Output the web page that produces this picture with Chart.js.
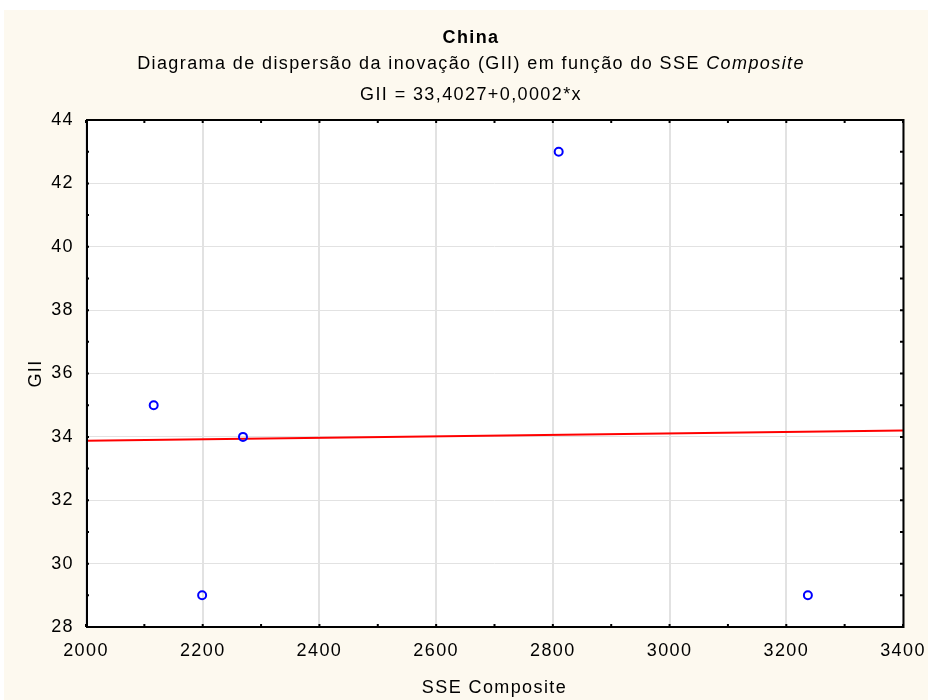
<!DOCTYPE html>
<html>
<head>
<meta charset="utf-8">
<script src="https://cdn.jsdelivr.net/npm/chart.js@4.4.0/dist/chart.umd.min.js"></script>
<style>
  html, body { margin: 0; padding: 0; background: #ffffff; }
  #wrap { position: absolute; left: 4px; top: 10px; width: 924px; height: 690px; background: #fdf9ef; }
  canvas { display: block; }
</style>
</head>
<body>
<div id="wrap"><canvas id="c" width="924" height="690"></canvas></div>
<script>
// Observations: SSE Composite (x) versus GII (y)
const sseComposite = [2116, 2199, 2269, 2810, 3237];
const gii = [35, 29, 34, 43, 29];

// Fitted regression line GII = a + b*x
const fitIntercept = 33.4027;
const fitSlope = 0.000236;
const fitRangeX = [2000, 3400];

// Axis ticks
const xTicks = [2000, 2200, 2400, 2600, 2800, 3000, 3200, 3400];
const yTicks = [28, 30, 32, 34, 36, 38, 40, 42, 44];
const xMinorStep = 100;
const yMinorStep = 1;

// Header texts
const titleText = 'China';
const subtitleText = 'Diagrama de dispersão da inovação (GII) em função do SSE ';
const subtitleItalic = 'Composite';
const equationText = 'GII = 33,4027+0,0002*x';
const xTitle = 'SSE Composite';
const yTitle = 'GII';

const FAMILY = "'Liberation Sans', Arial, Helvetica, sans-serif";
const SPACING = '1.4px';

const points = sseComposite.map((x, i) => ({ x: x, y: gii[i] }));
const fitLine = fitRangeX.map(x => ({ x: x, y: fitIntercept + fitSlope * x }));

const framePlugin = {
  id: 'frame',
  beforeUpdate(chart) { chart.ctx.letterSpacing = SPACING; },
  beforeDraw(chart) {
    const ctx = chart.ctx;
    const a = chart.chartArea;
    ctx.letterSpacing = SPACING;
    // white plotting area
    ctx.save();
    ctx.fillStyle = '#ffffff';
    ctx.fillRect(a.left, a.top, a.right - a.left, a.bottom - a.top);
    ctx.restore();
  },
  afterDraw(chart) {
    const ctx = chart.ctx;
    const a = chart.chartArea;
    const xs = chart.scales.x, ys = chart.scales.y;
    ctx.save();
    ctx.letterSpacing = SPACING;
    ctx.fillStyle = '#000';
    ctx.textBaseline = 'alphabetic';
    const cx = 467;

    // title
    ctx.font = 'bold 18px ' + FAMILY;
    ctx.textAlign = 'center';
    ctx.fillText(titleText, cx, 33);

    // subtitle with italic part
    ctx.textAlign = 'left';
    ctx.font = '18px ' + FAMILY;
    const w1 = ctx.measureText(subtitleText).width;
    ctx.font = 'italic 18px ' + FAMILY;
    const w2 = ctx.measureText(subtitleItalic).width;
    const sx = cx - (w1 + w2) / 2;
    ctx.font = '18px ' + FAMILY;
    ctx.fillText(subtitleText, sx, 59);
    ctx.font = 'italic 18px ' + FAMILY;
    ctx.fillText(subtitleItalic, sx + w1, 59);

    // equation
    ctx.font = '18px ' + FAMILY;
    ctx.textAlign = 'center';
    ctx.fillText(equationText, cx, 90);

    // minor and major tick marks on all four sides
    ctx.strokeStyle = '#000';
    ctx.lineWidth = 2;
    ctx.beginPath();
    for (let v = xs.min; v <= xs.max; v += xMinorStep) {
      const px = xs.getPixelForValue(v);
      ctx.moveTo(px, a.bottom); ctx.lineTo(px, a.bottom - 3);
      ctx.moveTo(px, a.top); ctx.lineTo(px, a.top + 3);
    }
    for (let v = ys.min; v <= ys.max; v += yMinorStep) {
      const py = ys.getPixelForValue(v);
      ctx.moveTo(a.left, py); ctx.lineTo(a.left + 3, py);
      ctx.moveTo(a.right, py); ctx.lineTo(a.right - 3, py);
    }
    ctx.stroke();

    // plot frame
    ctx.lineWidth = 2;
    ctx.strokeRect(a.left + 1, a.top, a.right - a.left - 0.5, a.bottom - a.top);
    ctx.restore();
  }
};

const tickFont = { family: FAMILY, size: 18 };

new Chart(document.getElementById('c'), {
  type: 'scatter',
  data: {
    datasets: [
      {
        data: points,
        showLine: false,
        pointStyle: 'circle',
        pointRadius: 4,
        pointBorderWidth: 2,
        pointBorderColor: '#0000ff',
        pointBackgroundColor: 'rgba(0,0,0,0)',
        order: 1
      },
      {
        data: fitLine,
        showLine: true,
        borderColor: '#ff0000',
        borderWidth: 2,
        pointRadius: 0,
        fill: false,
        order: 2
      }
    ]
  },
  options: {
    responsive: false,
    animation: false,
    events: [],
    layout: { padding: { top: 110, right: 25, bottom: 0, left: 0 } },
    plugins: { legend: { display: false }, tooltip: { enabled: false } },
    scales: {
      x: {
        type: 'linear',
        position: 'bottom',
        min: xTicks[0],
        max: xTicks[xTicks.length - 1],
        afterBuildTicks: s => { s.ticks = xTicks.map(v => ({ value: v })); },
        afterFit: s => { s.height = 73; s.paddingLeft = 0; s.paddingRight = 0; },
        ticks: {
          font: tickFont, color: '#000', padding: 13,
          maxRotation: 0, autoSkip: false,
          callback: v => String(v)
        },
        grid: { color: '#e2e2e2', lineWidth: 2, drawTicks: false },
        border: { display: false },
        title: {
          display: true, text: xTitle, color: '#000',
          font: { family: FAMILY, size: 18 },
          padding: { top: 0, bottom: 1 }
        }
      },
      y: {
        type: 'linear',
        position: 'left',
        min: yTicks[0],
        max: yTicks[yTicks.length - 1],
        afterBuildTicks: s => { s.ticks = yTicks.map(v => ({ value: v })); },
        afterFit: s => { s.width = 82; s.paddingTop = 0; s.paddingBottom = 0; },
        ticks: {
          font: tickFont, color: '#000', padding: 12,
          autoSkip: false,
          callback: v => String(v)
        },
        grid: { color: '#e2e2e2', lineWidth: 1, drawTicks: false },
        border: { display: false },
        title: {
          display: true, text: yTitle, color: '#000',
          font: { family: FAMILY, size: 18 },
          padding: { top: 21, bottom: 0 }
        }
      }
    }
  },
  plugins: [framePlugin]
});
</script>
</body>
</html>
